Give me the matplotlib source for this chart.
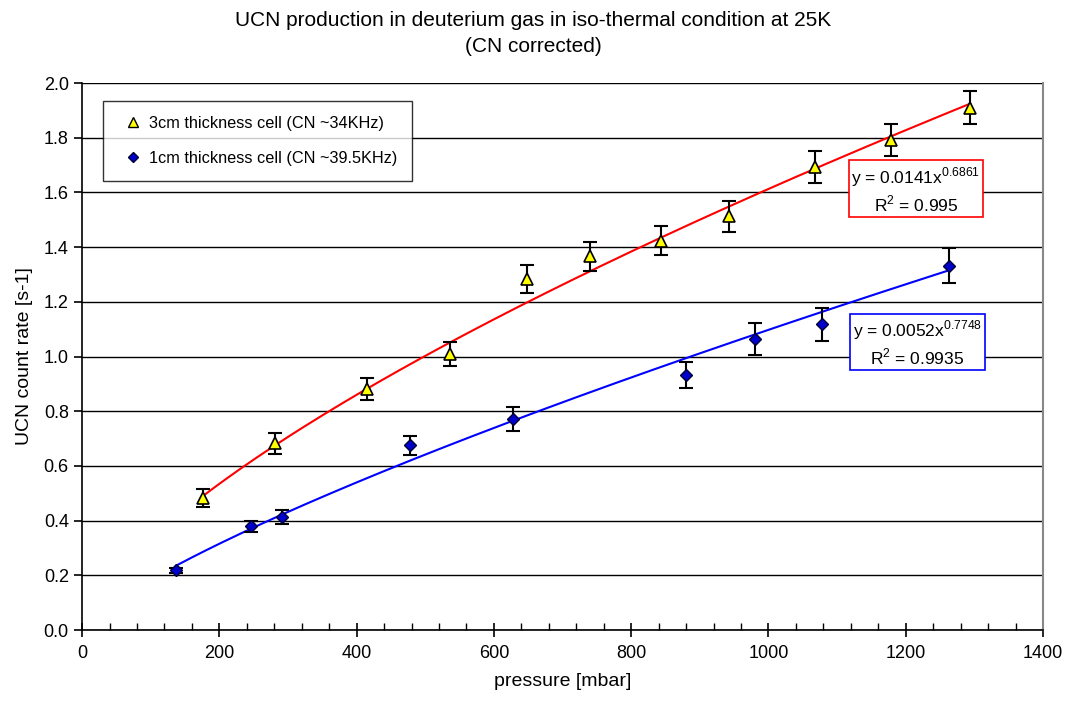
import matplotlib.pyplot as plt
import numpy as np
from matplotlib.lines import Line2D
from matplotlib.ticker import MultipleLocator

plt.rcParams["font.family"] = ["Liberation Sans", "DejaVu Sans"]
plt.rcParams["mathtext.fontset"] = "custom"
plt.rcParams["mathtext.rm"] = "Liberation Sans"

# 3cm cell (yellow triangles)
p3 = [176, 281, 415, 536, 648, 740, 843, 943, 1068, 1179, 1294]
y3 = [0.483, 0.683, 0.880, 1.010, 1.285, 1.366, 1.424, 1.512, 1.693, 1.792, 1.910]
e3 = [0.032, 0.038, 0.040, 0.043, 0.051, 0.052, 0.052, 0.055, 0.057, 0.058, 0.061]

# 1cm cell (blue diamonds)
p1 = [137, 246, 291, 478, 628, 880, 981, 1078, 1263]
y1 = [0.218, 0.379, 0.413, 0.676, 0.771, 0.932, 1.064, 1.118, 1.332]
e1 = [0.010, 0.020, 0.025, 0.035, 0.043, 0.047, 0.060, 0.060, 0.065]

# power-law trend lines (as printed on the chart)
fit3 = (0.0141, 0.6861)
fit1 = (0.0052, 0.7748)

fig = plt.figure(figsize=(10.67, 7.07), dpi=100)
ax = fig.add_axes([0.0769, 0.1089, 0.9006, 0.7737])

ax.set_xlim(0, 1400)
ax.set_ylim(0, 2.0)
ax.yaxis.set_major_locator(MultipleLocator(0.2))
ax.xaxis.set_major_locator(MultipleLocator(200))
ax.xaxis.set_minor_locator(MultipleLocator(40))
ax.yaxis.set_major_formatter(plt.FuncFormatter(lambda v, p: f"{v:.1f}"))
ax.grid(axis="y", color="black", linewidth=1.0)
ax.set_axisbelow(True)

ax.spines["top"].set_visible(False)
ax.spines["right"].set_color("#888888")
ax.spines["right"].set_linewidth(1.5)
ax.spines["left"].set_linewidth(1.2)
ax.spines["bottom"].set_linewidth(1.2)

ax.tick_params(axis="x", which="major", direction="inout", length=10, width=1.2, labelsize=13, pad=6)
ax.tick_params(axis="x", which="minor", direction="in", length=5, width=1)
ax.tick_params(axis="y", which="major", direction="out", length=6, width=1.2, labelsize=13)

# trend lines
xx3 = np.linspace(min(p3), max(p3), 200)
xx1 = np.linspace(min(p1), max(p1), 200)
ax.plot(xx3, fit3[0] * xx3 ** fit3[1], color="red", linewidth=1.5, zorder=2)
ax.plot(xx1, fit1[0] * xx1 ** fit1[1], color="blue", linewidth=1.5, zorder=2)

ax.errorbar(p3, y3, yerr=e3, fmt="none", ecolor="black", elinewidth=1.5, capsize=5, capthick=1.5, zorder=3)
ax.errorbar(p1, y1, yerr=e1, fmt="none", ecolor="black", elinewidth=1.5, capsize=5, capthick=1.5, zorder=3)
ax.plot(p3, y3, linestyle="none", marker="^", markersize=8, markerfacecolor="#FFFF00",
        markeredgecolor="black", markeredgewidth=1.2, zorder=4)
ax.plot(p1, y1, linestyle="none", marker="D", markersize=6.5, markerfacecolor="#0000CC",
        markeredgecolor="#000033", markeredgewidth=1.0, zorder=4)

ax.text(1215, 1.609, "y = 0.0141x$^{\\mathregular{0.6861}}$\nR$^{\\mathregular{2}}$ = 0.995",
        ha="center", va="center", fontsize=12.5, linespacing=1.25,
        bbox=dict(boxstyle="square,pad=0.15", facecolor="white", edgecolor="red", linewidth=1.2))
ax.text(1217, 1.049, "y = 0.0052x$^{\\mathregular{0.7748}}$\nR$^{\\mathregular{2}}$ = 0.9935",
        ha="center", va="center", fontsize=12.5, linespacing=1.25,
        bbox=dict(boxstyle="square,pad=0.15", facecolor="white", edgecolor="blue", linewidth=1.2))

handles = [
    Line2D([], [], linestyle="none", marker="^", markersize=7, markerfacecolor="#FFFF00",
           markeredgecolor="black", label="3cm thickness cell (CN ~34KHz)"),
    Line2D([], [], linestyle="none", marker="D", markersize=5.5, markerfacecolor="#0000CC",
           markeredgecolor="#000033", label="1cm thickness cell (CN ~39.5KHz)"),
]
leg = ax.legend(handles=handles, loc="upper left", bbox_to_anchor=(0.022, 0.967), fontsize=11.7,
                frameon=True, fancybox=False, edgecolor="black", handlelength=1.9,
                handletextpad=0.0, labelspacing=1.25, borderpad=0.9, borderaxespad=0)
leg.get_frame().set_linewidth(1.0)

ax.set_xlabel("pressure [mbar]", fontsize=14, labelpad=8)
ax.set_ylabel("UCN count rate [s-1]", fontsize=14, labelpad=8)
fig.suptitle("UCN production in deuterium gas in iso-thermal condition at 25K\n(CN corrected)",
             fontsize=15, y=0.985, linespacing=1.5)

fig.savefig("out.png", dpi=100)
